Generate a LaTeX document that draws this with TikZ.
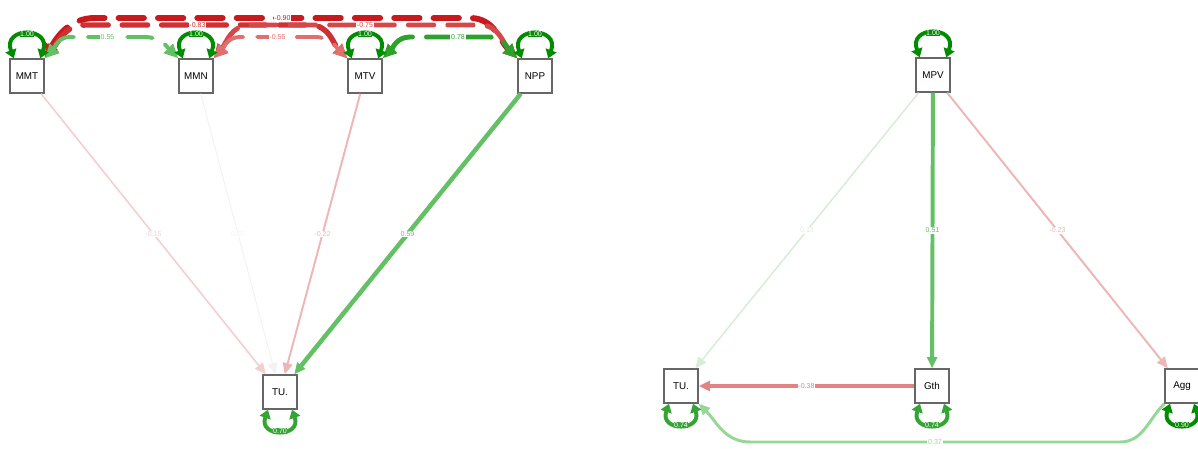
\documentclass[tikz,border=0pt]{standalone}
\usepackage{fontspec}
\setmainfont{Liberation Sans}
\usetikzlibrary{arrows.meta}

\definecolor{redA}{RGB}{200,25,30}
\definecolor{redB}{RGB}{206,48,52}
\definecolor{redC}{RGB}{213,72,74}
\definecolor{redD}{RGB}{224,112,112}
\definecolor{redE}{RGB}{226,132,132}
\definecolor{redF}{RGB}{238,182,182}
\definecolor{redG}{RGB}{243,206,206}
\definecolor{grayF}{RGB}{242,242,242}
\definecolor{grA}{RGB}{44,162,44}
\definecolor{grB}{RGB}{100,192,100}
\definecolor{grC}{RGB}{150,215,150}
\definecolor{grD}{RGB}{214,238,214}
\definecolor{loopA}{RGB}{0,140,0}
\definecolor{loopB}{RGB}{52,165,52}

\tikzset{
	var/.style={draw=black!60, line width=1pt, fill=white, minimum size=0.85cm, inner sep=0pt, font=\fontsize{7}{8}\selectfont},
	regr/.style={-{Triangle[length=8pt,width=7pt]}},
	cov/.style={{Triangle[length=10pt,width=9pt]}-{Triangle[length=10pt,width=9pt]}, dash pattern=on 18pt off 10pt, line cap=round},
	varloop/.style={{Triangle[length=6pt,width=8pt]}-{Triangle[length=6pt,width=8pt]}, line width=2.8pt},
	lab/.style={fill=white, inner sep=0.6pt, font=\fontsize{5}{5}\selectfont},
	looplab/.style={text=white, inner sep=0.4pt, font=\fontsize{5}{5}\selectfont}
}

\begin{document}
\begin{tikzpicture}[x=0.025cm,y=0.025cm]
	\useasboundingbox (0,0) rectangle (1198,448);

	%Model at the left
	\node[var] (MMT) at (27,372) {MMT};
	\node[var] (MMN) at (196,372) {MMN};
	\node[var] (MTV) at (365,372) {MTV};
	\node[var] (NPP) at (535,372) {NPP};
	\node[var] (TUl) at (280,56) {TU.};

	%Regressions on TU.
	\draw[regr, redG, line width=1.1pt] (MMT) -- node[lab, text=redG]{-0.15} (TUl);
	\draw[regr, grayF, line width=0.7pt] (MMN) -- node[lab, text=grayF]{0.07} (TUl);
	\draw[regr, redF, line width=1.4pt] (MTV) -- node[lab, text=redF]{-0.22} (TUl);
	\draw[regr, grB, line width=3.2pt] (NPP) -- node[lab, text=grB]{0.59} (TUl);

	%Covariances between the predictors
	\draw[cov, redA, line width=4.2pt] (MMT.north east) to[out=60,in=180] (95,430)
	-- node[lab, text=redA]{-0.90} (470,430) to[out=0,in=135] (NPP.north west);
	\draw[cov, redB, line width=3.9pt] (MMT.north east) to[out=50,in=180] (85,423)
	-- node[lab, text=redB]{-0.83} (310,423) to[out=0,in=135] (MTV.north west);
	\draw[cov, redC, line width=3.5pt] (MMN.north east) to[out=50,in=180] (250,423)
	-- node[lab, text=redC]{-0.75} (480,423) to[out=0,in=135] (NPP.north west);
	\draw[cov, grB, line width=2.8pt] (MMT.north east) to[out=45,in=180] (70,411)
	-- node[lab, text=grB]{0.55} (145,411) to[out=0,in=135] (MMN.north west);
	\draw[cov, redD, line width=2.8pt] (MMN.north east) to[out=45,in=180] (240,411)
	-- node[lab, text=redD]{-0.55} (315,411) to[out=0,in=135] (MTV.north west);
	\draw[cov, grA, line width=3.5pt] (MTV.north east) to[out=45,in=180] (410,411)
	-- node[lab, text=grA, pos=0.6]{0.78} (490,411) to[out=0,in=135] (NPP.north west);

	%Variances of the predictors
	\foreach \v in {MMT,MMN,MTV,NPP}
		\draw[varloop, loopA] ([xshift=-0.33cm]\v.north) .. controls +(-0.3cm,0.8cm) and +(0.3cm,0.8cm)
		.. node[looplab, fill=loopA]{1.00} ([xshift=0.33cm]\v.north);
	%Residual of TU.
	\draw[varloop, loopB] ([xshift=-0.3cm]TUl.south) .. controls +(-0.25cm,-0.7cm) and +(0.25cm,-0.7cm)
	.. node[looplab, fill=loopB]{0.70} ([xshift=0.3cm]TUl.south);

	%Model at the right
	\node[var] (MPV) at (933,373) {MPV};
	\node[var] (TUr) at (681,62) {TU.};
	\node[var] (Gth) at (932,62) {Gth};
	\node[var] (Agg) at (1182,62) {Agg};

	%Regressions
	\draw[regr, grD, line width=1.1pt] (MPV) -- node[lab, text=grD]{0.13} (TUr);
	\draw[regr, grB, line width=2.8pt] (MPV) -- node[lab, text=grB]{0.51} (Gth);
	\draw[regr, redF, line width=1.4pt] (MPV) -- node[lab, text=redF]{-0.23} (Agg);
	\draw[regr, redE, line width=2.5pt] (Gth) -- node[lab, text=redE]{-0.38} (TUr);
	\draw[regr, grC, line width=2.1pt] (Agg.south west) to[out=225,in=0] (1120,6)
	-- node[lab, text=grC]{0.37} (750,6) to[out=180,in=-45] (TUr.south east);

	%Variances
	\draw[varloop, loopA] ([xshift=-0.33cm]MPV.north) .. controls +(-0.3cm,0.8cm) and +(0.3cm,0.8cm)
	.. node[looplab, fill=loopA]{1.00} ([xshift=0.33cm]MPV.north);
	\draw[varloop, loopB] ([xshift=-0.3cm]TUr.south) .. controls +(-0.25cm,-0.7cm) and +(0.25cm,-0.7cm)
	.. node[looplab, fill=loopB]{0.74} ([xshift=0.3cm]TUr.south);
	\draw[varloop, loopB] ([xshift=-0.3cm]Gth.south) .. controls +(-0.25cm,-0.7cm) and +(0.25cm,-0.7cm)
	.. node[looplab, fill=loopB]{0.74} ([xshift=0.3cm]Gth.south);
	\draw[varloop, loopA] ([xshift=-0.3cm]Agg.south) .. controls +(-0.25cm,-0.7cm) and +(0.25cm,-0.7cm)
	.. node[looplab, fill=loopA]{0.90} ([xshift=0.3cm]Agg.south);
\end{tikzpicture}
\end{document}
